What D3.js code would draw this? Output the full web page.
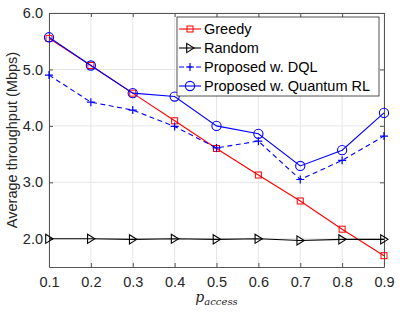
<!DOCTYPE html>
<html><head><meta charset="utf-8">
<script src="https://cdn.jsdelivr.net/npm/d3@7"></script>
<style>body{margin:0;background:#fff}svg{display:block}</style>
</head><body>
<script>
const pAccess = [0.1,0.2,0.3,0.4,0.5,0.6,0.7,0.8,0.9];
const greedy  = [5.55,5.07,4.58,4.09,3.60,3.13,2.67,2.17,1.70];
const random  = [2.00,2.00,1.99,2.00,1.99,2.00,1.97,1.99,1.99];
const dql     = [4.90,4.42,4.28,3.99,3.61,3.73,3.05,3.39,3.82];
const quantum = [5.57,5.07,4.58,4.52,4.00,3.86,3.29,3.57,4.23];
const xTicks = [0.1,0.2,0.3,0.4,0.5,0.6,0.7,0.8,0.9];
const yTicks = [2.0,3.0,4.0,5.0,6.0];
const names = ["Greedy","Random","Proposed w. DQL","Proposed w. Quantum RL"];

const W=400,H=313;
const m={l:49,r:16,t:13,b:46};
const svg=d3.select("body").append("svg").attr("width",W).attr("height",H);
const x=d3.scaleLinear().domain([0.1,0.9]).range([m.l,W-m.r]);
const y=d3.scaleLinear().domain([1.5,6.0]).range([H-m.b,m.t]);
const font="'Liberation Sans', Arial, Helvetica, sans-serif";
const axCol="#262626";

// grid
svg.append("g").selectAll("line").data(xTicks).join("line")
  .attr("x1",d=>x(d)).attr("x2",d=>x(d)).attr("y1",m.t).attr("y2",H-m.b)
  .attr("stroke","#e6e6e6").attr("stroke-width",1);
svg.append("g").selectAll("line").data(yTicks).join("line")
  .attr("x1",m.l).attr("x2",W-m.r).attr("y1",d=>y(d)).attr("y2",d=>y(d))
  .attr("stroke","#e6e6e6").attr("stroke-width",1);

// axes
const fmt=d3.format(".1f");
const gx=svg.append("g").attr("transform",`translate(0,${H-m.b})`)
  .call(d3.axisBottom(x).tickValues(xTicks).tickFormat(fmt).tickSizeInner(-4).tickSizeOuter(0).tickPadding(10));
const gy=svg.append("g").attr("transform",`translate(${m.l},0)`)
  .call(d3.axisLeft(y).tickValues(yTicks).tickFormat(fmt).tickSizeInner(-4).tickSizeOuter(0).tickPadding(6));
const gxt=svg.append("g").attr("transform",`translate(0,${m.t})`)
  .call(d3.axisTop(x).tickValues(xTicks).tickFormat("").tickSizeInner(-4).tickSizeOuter(0));
const gyr=svg.append("g").attr("transform",`translate(${W-m.r},0)`)
  .call(d3.axisRight(y).tickValues(yTicks).tickFormat("").tickSizeInner(-4).tickSizeOuter(0));
[gx,gy,gxt,gyr].forEach(g=>{
  g.selectAll("path").attr("stroke","#555").attr("stroke-width",1);
  g.selectAll("line").attr("stroke","#555");
  g.selectAll("text").attr("fill",axCol).style("font-family",font).style("font-size","14.5px");
});

// labels
svg.append("text").attr("transform",`translate(17,${(m.t+H-m.b)/2}) rotate(-90)`)
  .attr("text-anchor","middle").attr("fill",axCol).style("font-family",font).style("font-size","14.5px")
  .text("Average throughput (Mbps)");
const xl=svg.append("text").attr("x",x(0.5)).attr("y",302).attr("text-anchor","middle")
  .attr("fill",axCol).style("font-family","'DejaVu Serif','Liberation Serif',serif").style("font-style","italic");
xl.append("tspan").style("font-size","14px").text("p");
xl.append("tspan").attr("dy",3).style("font-size","10px").text("access");

// series
const series=[
  {vals:greedy,color:"#ff0000",dash:null,marker:"square"},
  {vals:random,color:"#000000",dash:null,marker:"tri"},
  {vals:dql,color:"#0000ff",dash:"5,3.5",marker:"plus"},
  {vals:quantum,color:"#0000ff",dash:null,marker:"circle"}
];
function drawMarker(g,type,color,cx,cy){
  if(type==="square") g.append("rect").attr("x",cx-3).attr("y",cy-3).attr("width",6).attr("height",6)
    .attr("fill","none").attr("stroke",color).attr("stroke-width",1);
  else if(type==="circle") g.append("circle").attr("cx",cx).attr("cy",cy).attr("r",4.6)
    .attr("fill","none").attr("stroke",color).attr("stroke-width",1.1);
  else if(type==="tri") g.append("path").attr("d",`M${cx-3.3},${cy-4.6}L${cx+4},${cy}L${cx-3.3},${cy+4.6}Z`)
    .attr("fill","none").attr("stroke",color).attr("stroke-width",1.1);
  else if(type==="plus") g.append("path").attr("d",`M${cx-4},${cy}H${cx+4}M${cx},${cy-4}V${cy+4}`)
    .attr("fill","none").attr("stroke",color).attr("stroke-width",1.2);
}
const line=d3.line().x((d,i)=>x(pAccess[i])).y(d=>y(d));
series.forEach(s=>{
  const g=svg.append("g");
  g.append("path").attr("d",line(s.vals)).attr("fill","none").attr("stroke",s.color)
    .attr("stroke-width",1.1).attr("stroke-dasharray",s.dash);
  s.vals.forEach((v,i)=>drawMarker(g,s.marker,s.color,x(pAccess[i]),y(v)));
});

// legend
const lg=svg.append("g");
lg.append("rect").attr("x",177).attr("y",17).attr("width",202).attr("height",79)
  .attr("fill","#fff").attr("stroke","#262626").attr("stroke-width",0.8);
names.forEach((n,i)=>{
  const cy=29+i*19, s=series[i];
  lg.append("line").attr("x1",179).attr("x2",201).attr("y1",cy).attr("y2",cy)
    .attr("stroke",s.color).attr("stroke-width",1.1).attr("stroke-dasharray",s.dash);
  drawMarker(lg,s.marker,s.color,190,cy);
  lg.append("text").attr("x",204).attr("y",cy+5).attr("fill","#000")
    .style("font-family",font).style("font-size","14.5px").text(n);
});
</script>
</body></html>
